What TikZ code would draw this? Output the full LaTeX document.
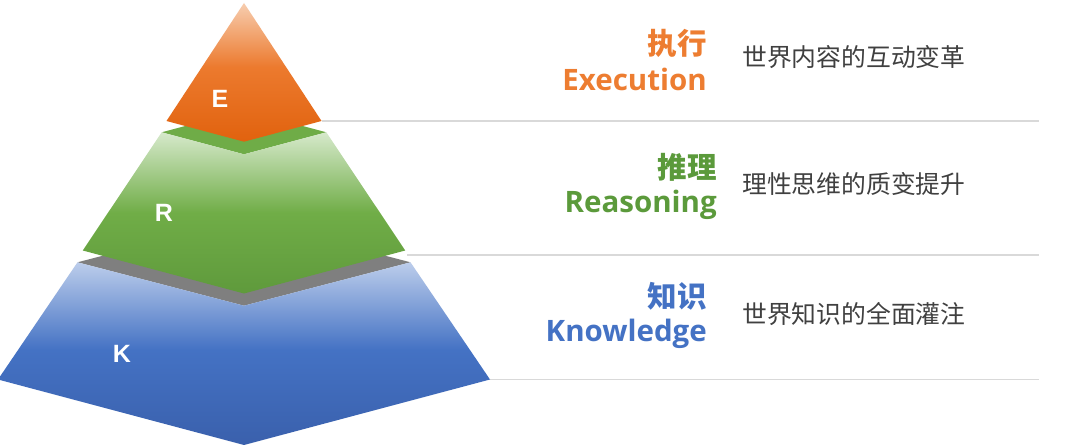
\documentclass[tikz,border=0pt]{standalone}
\usepackage{fontspec}
\setmainfont{Liberation Sans}
\newfontfamily\cjk{Noto Sans CJK SC}
\newfontfamily\latb{Open Sans}
\definecolor{orgA}{HTML}{F7CDAF}
\definecolor{orgB}{HTML}{EC7A2E}
\definecolor{orgC}{HTML}{E1620E}
\definecolor{grnA}{HTML}{D6E9CB}
\definecolor{grnB}{HTML}{70AD47}
\definecolor{grnC}{HTML}{5F9A3C}
\definecolor{bluA}{HTML}{BCCDEB}
\definecolor{bluB}{HTML}{4472C4}
\definecolor{bluC}{HTML}{3A60AC}
\definecolor{capG}{HTML}{6FAC47}
\definecolor{capK}{HTML}{7F7F7F}
\definecolor{sepC}{HTML}{D9D9D9}
\definecolor{descC}{HTML}{404040}
\definecolor{txtE}{HTML}{ED7D31}
\definecolor{txtR}{HTML}{5B9A3B}
\definecolor{txtK}{HTML}{4472C4}
\pgfdeclareverticalshading{shE}{100bp}{color(0bp)=(orgC); color(25bp)=(orgC); color(52bp)=(orgB); color(75bp)=(orgA); color(100bp)=(orgA)}
\pgfdeclareverticalshading{shR}{100bp}{color(0bp)=(grnC); color(25bp)=(grnC); color(50bp)=(grnB); color(75bp)=(grnA); color(100bp)=(grnA)}
\pgfdeclareverticalshading{shK}{100bp}{color(0bp)=(bluC); color(25bp)=(bluC); color(51bp)=(bluB); color(75bp)=(bluA); color(100bp)=(bluA)}
\tikzset{
  sepline/.style={draw=sepC, line width=1.5pt},
  tierlbl/.style={text=white, inner sep=0pt, font=\bfseries\fontsize{25}{25}\selectfont},
  cjktitle/.style={anchor=east, inner sep=0pt, font=\cjk\bfseries\fontsize{29.5}{30}\selectfont},
  lattitle/.style={anchor=base east, inner sep=0pt, font=\latb\bfseries\fontsize{29.5}{30}\selectfont},
  desctext/.style={anchor=west, inner sep=0pt, text=descC, font=\cjk\fontsize{24.8}{25}\selectfont},
}
\begin{document}
\begin{tikzpicture}[x=1pt,y=-1pt]
\useasboundingbox (0,0) rectangle (1080,446);
\fill[white] (0,0) rectangle (1080,446);
% coordinates
\coordinate (Ea) at (244,3);
\coordinate (El) at (166.5,121);
\coordinate (Ev) at (244,141.7);
\coordinate (Er) at (321.5,121);
\coordinate (Gl) at (161.7,132.3);
\coordinate (Gt) at (244,110.3);
\coordinate (Gr) at (326.3,132.3);
\coordinate (Gv) at (244,154.3);
\coordinate (Rl) at (82.8,250.5);
\coordinate (Rr) at (405.2,250.5);
\coordinate (Rv) at (244,293.5);
\coordinate (Kl) at (77.5,262.3);
\coordinate (Kt) at (244,219);
\coordinate (Kr) at (410.5,262.3);
\coordinate (Kv) at (244,305.7);
\coordinate (Bl) at (-2,379.5);
\coordinate (Br) at (490,379.5);
\coordinate (Bv) at (244,445);
% separator lines
\coordinate (L1e) at (1039,121);
\coordinate (L2s) at (407,255);
\coordinate (L2e) at (1039,255);
\coordinate (L3e) at (1039,379.5);
\draw[sepline] (Er) -- (L1e);
\draw[sepline] (L2s) -- (L2e);
\draw[sepline] (Br) -- (L3e);
% K tier
\fill[capK] (Kl) -- (Kt) -- (Kr) -- (Kv) -- cycle;
\shade[shading=shK] (Kl) -- (Kv) -- (Kr) -- (Br) -- (Bv) -- (Bl) -- cycle;
% R tier
\fill[capG] (Gl) -- (Gt) -- (Gr) -- (Gv) -- cycle;
\shade[shading=shR] (Gl) -- (Gv) -- (Gr) -- (Rr) -- (Rv) -- (Rl) -- cycle;
% E tier
\shade[shading=shE] (Ea) -- (Er) -- (Ev) -- (El) -- cycle;
% tier letters
\node[tierlbl] (lE) at (220,99) {E};
\node[tierlbl] (lR) at (164,213) {R};
\node[tierlbl] (lK) at (122,354) {K};
% titles
\node[cjktitle, text=txtE] (t1) at (707,43.5) {执行};
\node[lattitle, text=txtE] (e1) at (707,91) {Execution};
\node[cjktitle, text=txtR] (t2) at (717,167.5) {推理};
\node[lattitle, text=txtR] (e2) at (717,213) {Reasoning};
\node[cjktitle, text=txtK] (t3) at (707,296) {知识};
\node[lattitle, text=txtK] (e3) at (707,342) {Knowledge};
% descriptions
\node[desctext] (d1) at (742,57.5) {世界内容的互动变革};
\node[desctext] (d2) at (742,184) {理性思维的质变提升};
\node[desctext] (d3) at (742,314) {世界知识的全面灌注};
\end{tikzpicture}
\end{document}
